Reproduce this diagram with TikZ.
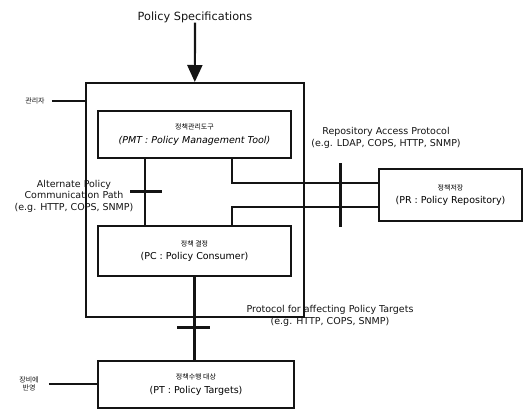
\documentclass[tikz,border=0pt]{standalone}
\usepackage{fontspec}
\setmainfont{DejaVu Sans}
\newfontfamily\krfont{Noto Sans CJK KR}
\usepackage{tikz}
\usetikzlibrary{arrows.meta,positioning}
\definecolor{inkblack}{HTML}{141414}
\newcommand\engsize{\fontsize{9.5}{11.5}\selectfont}
\newcommand\krsize{\krfont\fontsize{7}{8}\selectfont}
\tikzset{
  polbox/.style={
    rectangle, draw=inkblack, line width=2pt, fill=white,
    anchor=north west, align=center, inner sep=0pt,
    minimum width=193pt, minimum height=47pt, font=\engsize
  },
  mgrbox/.style={
    rectangle, draw=inkblack, line width=1.6pt,
    anchor=north west, inner sep=0pt
  },
  link/.style={line width=2.4pt, color=inkblack},
  stub/.style={line width=1.6pt, color=inkblack},
  crossbar/.style={line width=3pt, color=inkblack},
  specarrow/.style={-{Triangle[width=15pt,length=17pt]}, line width=2.2pt, color=inkblack},
  lbl/.style={align=center, inner sep=0pt, font=\engsize, text=inkblack},
}
\begin{document}
\begin{tikzpicture}[x=1pt,y=-1pt]
  \useasboundingbox (0,0) rectangle (524,408);
  % managing system and its parts
  \node[mgrbox, minimum width=218pt, minimum height=234pt] (mgr) at (85,82) {};
  \node[polbox] (pmt) at (97,110) {{\krsize 정책관리도구}\\[2pt]{\itshape (PMT : Policy Management Tool)}};
  \node[polbox, minimum height=50pt] (pc) at (97,225) {{\krsize 정책 결정}\\[2pt](PC : Policy Consumer)};
  \node[polbox, minimum width=196pt] (pt) at (97,360) {{\krsize 정책수행 대상}\\[2pt](PT : Policy Targets)};
  \node[polbox, minimum width=143pt, minimum height=52pt] (pr) at (378,168) {{\krsize 정책저장}\\[2pt](PR : Policy Repository)};

  \node[lbl, font=\fontsize{11.3}{12}\selectfont] (spec) at (195,17) {Policy Specifications};
  \draw[specarrow] (spec.south) -- (mgr.north);

  \node[lbl, font=\krsize] (admin) at (35,101) {관리자};
  \draw[stub] ([xshift=7pt]admin.east) -- (admin.east -| mgr.west);
  \node[lbl, font=\krsize] (apply) at (29,384) {장비에\\반영};
  \draw[stub] ([xshift=10pt]apply.east) -- (apply.east -| pt.west);

  % repository access
  \coordinate (upperjoint) at (232,183);
  \coordinate (lowerjoint) at (232,207);
  \draw[link] (pmt.south -| upperjoint) |- (pr.west |- upperjoint);
  \draw[link] (pr.west |- lowerjoint) -| (pc.north -| lowerjoint);
  \coordinate (raptop) at (340,163);
  \coordinate (rapbot) at (340,227);
  \draw[crossbar] (raptop) -- (rapbot);
  \node[lbl] (raplbl) at (386,138) {Repository Access Protocol\\(e.g. LDAP, COPS, HTTP, SNMP)};

  % alternate path
  \coordinate (altx) at (145,0);
  \draw[link] (pmt.south -| altx) -- (pc.north -| altx);
  \coordinate (alttickl) at (130,191);
  \coordinate (alttickr) at (162,191);
  \draw[crossbar] (alttickl) -- (alttickr);
  \node[lbl] (altlbl) at (74,196) {Alternate Policy\\Communication Path\\(e.g. HTTP, COPS, SNMP)};

  % targets
  \draw[link] (pc.south) -- (pc.south |- pt.north);
  \coordinate (tgttickl) at (177,327);
  \coordinate (tgttickr) at (210,327);
  \draw[crossbar] (tgttickl) -- (tgttickr);
  \node[lbl] (tgtlbl) at (330,316) {Protocol for affecting Policy Targets\\(e.g. HTTP, COPS, SNMP)};
\end{tikzpicture}
\end{document}
